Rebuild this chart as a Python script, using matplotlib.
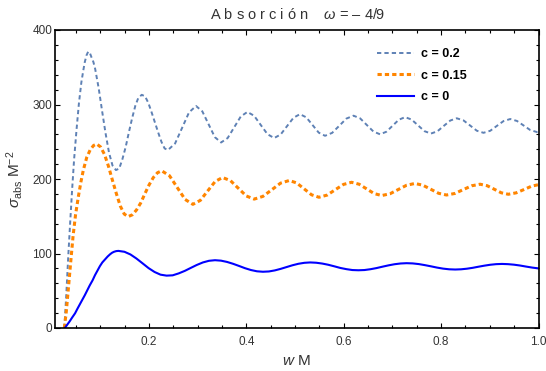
import matplotlib
matplotlib.use("Agg")
import matplotlib.pyplot as plt
from matplotlib.ticker import MultipleLocator, FuncFormatter

# ---- data ----
x_c02 = [0.026, 0.030, 0.034, 0.038, 0.042, 0.046, 0.051, 0.056, 0.061, 0.065, 0.068, 0.0715, 0.075,
         0.0785, 0.082, 0.0857, 0.0893, 0.0965, 0.1035, 0.1105, 0.1178, 0.125, 0.132,
         0.1387, 0.1453, 0.152, 0.1585, 0.165, 0.1718, 0.178, 0.185,
         0.1918, 0.1985, 0.205, 0.212, 0.219, 0.2255, 0.232, 0.239,
         0.2534, 0.2678, 0.2821, 0.2965,
         0.3094, 0.3223, 0.3351, 0.348,
         0.3615, 0.375, 0.3885, 0.402,
         0.4158, 0.4295, 0.4433, 0.457,
         0.4703, 0.4835, 0.4968, 0.510,
         0.5229, 0.5358, 0.5486, 0.5615,
         0.5761, 0.5908, 0.6054, 0.620,
         0.6336, 0.6473, 0.6609, 0.6745,
         0.6874, 0.7003, 0.7131, 0.726,
         0.7393, 0.7525, 0.7658, 0.779,
         0.7923, 0.8055, 0.8188, 0.832,
         0.8458, 0.8595, 0.8733, 0.887,
         0.9008, 0.9145, 0.9283, 0.942,
         0.9558, 0.9695, 0.9833, 0.997, 1.0]
y_c02 = [0, 45, 96, 142, 186, 226, 266, 302, 330, 346, 357, 366, 371,
         369, 363, 357, 347.8, 322, 291.5, 262, 235.2, 218, 212,
         214, 226.7, 243, 262.5, 281, 298.3, 309, 313,
         311, 302.2, 290, 276.0, 262, 249.8, 241, 239,
         247.6, 268.5, 289.4, 298,
         290.8, 273.5, 256.2, 249,
         255.0, 269.5, 284.0, 290,
         284.9, 272.5, 260.1, 255,
         259.7, 271.0, 282.3, 287,
         282.8, 272.5, 262.2, 258,
         261.9, 271.5, 281.1, 285,
         281.4, 272.5, 263.7, 260,
         263.4, 271.5, 279.6, 283,
         279.8, 272.0, 264.2, 261,
         264.0, 271.3, 278.5, 281.5,
         278.7, 271.8, 264.8, 262,
         264.7, 271.3, 277.8, 280.5,
         277.9, 271.8, 265.6, 263, 263]

x_c015 = [0.026, 0.030, 0.034, 0.039, 0.044, 0.049, 0.0547, 0.060, 0.065, 0.072, 0.079, 0.086, 0.0925,
          0.1005, 0.1086, 0.1167, 0.1248, 0.133, 0.1409, 0.149, 0.157,
          0.1657, 0.1743, 0.183, 0.1915, 0.200, 0.2088, 0.2175, 0.226,
          0.242, 0.258, 0.274, 0.290,
          0.3053, 0.3205, 0.3358, 0.351,
          0.3673, 0.3835, 0.3998, 0.416,
          0.434, 0.452, 0.470, 0.488,
          0.5033, 0.5185, 0.5338, 0.549,
          0.5658, 0.5825, 0.5993, 0.616,
          0.6315, 0.647, 0.6625, 0.678,
          0.695, 0.712, 0.729, 0.746,
          0.7623, 0.7785, 0.7948, 0.811,
          0.8283, 0.8455, 0.8628, 0.880,
          0.8945, 0.909, 0.9235, 0.938,
          0.954, 0.970, 0.986, 1.0]
y_c015 = [0, 22, 51, 88, 124, 152, 176, 196, 212, 229, 239, 245, 247,
          243, 232.8, 217, 198.3, 180, 163.8, 153, 149.5,
          152, 158.5, 168, 180.3, 192, 202.0, 208.5, 211,
          204.4, 188.5, 172.6, 166,
          171.3, 184.0, 196.7, 202,
          197.8, 187.5, 177.2, 173,
          176.7, 185.5, 194.4, 198,
          194.7, 186.8, 178.8, 175.5,
          178.4, 185.6, 192.7, 195.6,
          193.0, 186.7, 180.4, 177.8,
          180.2, 185.9, 191.6, 194,
          191.7, 186.3, 180.8, 178.5,
          180.6, 185.8, 190.9, 193,
          191.0, 186.3, 181.5, 179.5,
          181.4, 185.8, 190.4, 192.4]

x_c0 = [0.027, 0.032, 0.037, 0.042, 0.048, 0.053, 0.058, 0.063, 0.068, 0.073, 0.078, 0.084,
        0.089, 0.094, 0.099, 0.104, 0.1095, 0.115, 0.120, 0.124, 0.128, 0.1325, 0.137,
        0.1495, 0.1618, 0.174, 0.1865, 0.199, 0.2113, 0.2235, 0.236,
        0.2485, 0.2609, 0.2735, 0.2858, 0.298, 0.3106, 0.323, 0.3355,
        0.3478, 0.3601, 0.3725, 0.3848, 0.397, 0.4094, 0.4217, 0.434,
        0.4462, 0.4583, 0.4705, 0.4825, 0.4946, 0.5068, 0.519, 0.531,
        0.5434, 0.5558, 0.568, 0.5805, 0.593, 0.6053, 0.6177, 0.630,
        0.6424, 0.6548, 0.667, 0.6795, 0.692, 0.7043, 0.7167, 0.729,
        0.7415, 0.754, 0.7665, 0.779, 0.7915, 0.804, 0.8165, 0.829,
        0.841, 0.853, 0.865, 0.877, 0.889, 0.901, 0.913, 0.925,
        0.9373, 0.9495, 0.9618, 0.974, 0.987, 1.0]
y_c0 = [0, 4.5, 9, 14, 19.7, 26, 32, 38, 44, 50.5, 57, 64,
        71, 77, 83, 88, 92, 96, 99, 101, 102.3, 103.2, 103.5,
        102.3, 98.7, 93.3, 86.9, 80.4, 75.2, 71.6, 70.3,
        70.7, 73.3, 76.7, 80.7, 84.6, 88.0, 90.2, 91,
        90.4, 88.7, 86.2, 83.3, 80.3, 77.8, 76.1, 75.5,
        75.9, 77.3, 79.4, 81.8, 84.2, 86.2, 87.5, 88,
        87.6, 86.5, 84.9, 82.8, 80.6, 79.0, 77.8, 77.5,
        77.8, 78.9, 80.4, 82.3, 84.1, 85.6, 86.6, 87,
        86.7, 85.8, 84.4, 82.8, 81.1, 79.7, 78.8, 78.5,
        78.8, 79.6, 80.8, 82.3, 83.7, 84.9, 85.7, 86,
        85.7, 85.0, 83.9, 82.5, 81.1, 80.0]

labels = ["c = 0.2", "c = 0.15", "c = 0"]
x_ticks = [0.2, 0.4, 0.6, 0.8, 1.0]
y_ticks = [0, 100, 200, 300, 400]

plt.rcParams["font.family"] = ["Liberation Sans", "DejaVu Sans"]
plt.rcParams["mathtext.fontset"] = "custom"
plt.rcParams["mathtext.rm"] = "Liberation Sans"
plt.rcParams["mathtext.it"] = "Liberation Sans:italic"
plt.rcParams["mathtext.bf"] = "Liberation Sans:bold"

# ---- figure ----
fig = plt.figure(figsize=(5.46, 3.71), dpi=100)
ax = fig.add_axes([55 / 546, 43 / 371, 483.5 / 546, 298 / 371])

ax.plot(x_c02, y_c02, color="#5e81b5", lw=1.4, ls=(0, (2.2, 1.6)), label=labels[0])
ax.plot(x_c015, y_c015, color="#ff8500", lw=2.2, ls=(0, (1.4, 1.0)), label=labels[1])
ax.plot(x_c0, y_c0, color="#0000ff", lw=1.5, label=labels[2])

ax.set_xlim(0.0068, 1.0)
ax.set_ylim(0, 400)
ax.set_xticks(x_ticks)
ax.set_yticks(y_ticks)
ax.xaxis.set_minor_locator(MultipleLocator(0.05))
ax.yaxis.set_minor_locator(MultipleLocator(20))
ax.xaxis.set_major_formatter(FuncFormatter(lambda v, p: f"{v:.1f}"))
ax.yaxis.set_major_formatter(FuncFormatter(lambda v, p: f"{v:.0f}"))

ax.tick_params(which="both", direction="in", top=True, right=True,
               labelsize=8.5, labelcolor="#333333", width=0.8, color="black")
ax.tick_params(which="major", length=3.5)
ax.tick_params(which="minor", length=2.2)
ax.tick_params(axis="x", pad=6)
ax.tick_params(axis="y", pad=2)
for s in ax.spines.values():
    s.set_linewidth(1.2)

ax.set_xlabel(r"$w$ M", fontsize=11, color="#333333", labelpad=4)
ax.set_ylabel(r"$\sigma_{\mathrm{abs}}\ \mathrm{M}^{-2}$", fontsize=11, color="#333333", labelpad=5)
ax.set_title("A b s o r c i ó n    $\\omega$ = – 4/9", fontsize=10.5, color="#333333", pad=8)

leg = ax.legend(loc="upper left", bbox_to_anchor=(0.653, 0.96), frameon=False,
                handlelength=3.0, handletextpad=0.5, labelspacing=0.75, borderpad=0,
                prop={"weight": "bold", "size": 9})

fig.savefig("out.png", dpi=100)
